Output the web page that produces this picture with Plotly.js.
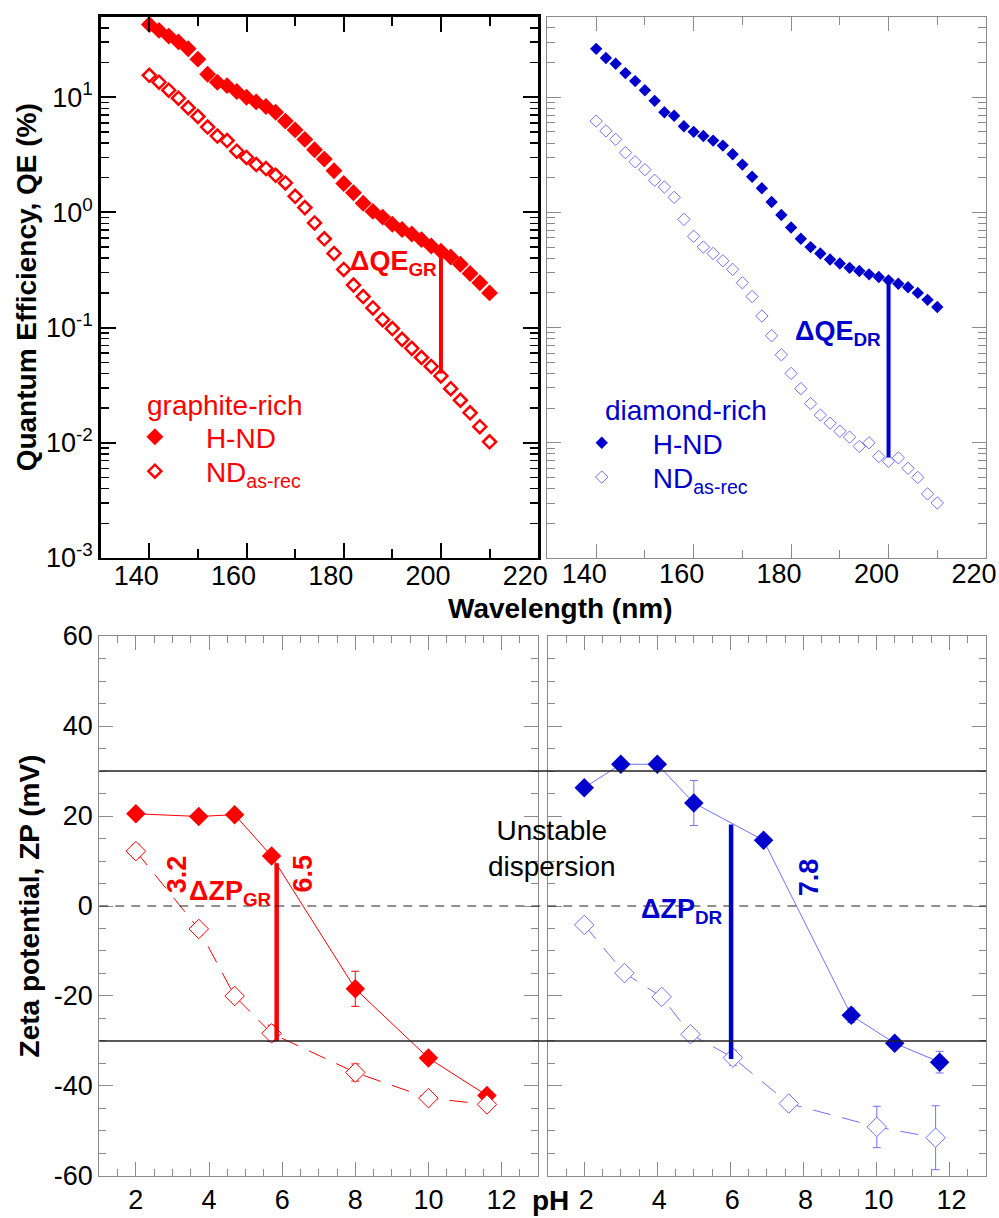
<!DOCTYPE html>
<html>
<head>
<meta charset="utf-8">
<script src="https://cdn.plot.ly/plotly-3.0.1.min.js"></script>
<style>html,body{margin:0;padding:0;background:#fff;} #chart{width:999px;height:1218px;}</style>
</head>
<body>
<div id="chart"></div>
<script>
// ---------------- data ----------------
const wavelength = [140,142,144,146,148,150,152,154,156,158,160,162,164,166,168,170,172,174,176,178,180,182,184,186,188,190,192,194,196,198,200,202,204,206,208,210];
const qeGraphiteH = [42.7,38.0,33.9,30.2,26.3,21.4,15.8,13.5,12.6,11.2,10.0,9.1,8.3,7.4,6.2,5.2,4.3,3.5,2.9,2.3,1.78,1.48,1.20,1.02,0.91,0.79,0.71,0.65,0.58,0.51,0.46,0.41,0.355,0.295,0.245,0.20];
const qeGraphiteND = [15.5,13.5,11.5,9.8,8.1,6.8,5.5,4.6,4.2,3.4,3.0,2.6,2.4,2.1,1.8,1.38,1.10,0.81,0.59,0.44,0.32,0.234,0.186,0.148,0.117,0.098,0.079,0.066,0.055,0.046,0.038,0.0295,0.0234,0.0182,0.0138,0.0102];
const qeDiamondH = [26.3,21.9,19.5,16.2,13.8,11.5,9.3,7.4,6.9,5.6,5.0,4.6,4.2,3.8,3.2,2.6,2.04,1.62,1.23,0.95,0.74,0.59,0.50,0.44,0.39,0.36,0.33,0.31,0.29,0.275,0.257,0.24,0.224,0.20,0.174,0.151];
const qeDiamondND = [6.2,5.1,4.3,3.3,2.75,2.35,1.9,1.66,1.35,0.87,0.62,0.50,0.44,0.38,0.32,0.245,0.186,0.126,0.085,0.058,0.040,0.0295,0.0219,0.0174,0.0148,0.0126,0.0112,0.0093,0.0100,0.0076,0.0069,0.0074,0.0060,0.0050,0.0036,0.0030];
const deltaQEWavelength = [200];

const qeTickVals = [0.001,0.01,0.1,1,10];
const qeTickText = ['10<sup>-3</sup>','10<sup>-2</sup>','10<sup>-1</sup>','10<sup>0</sup>','10<sup>1</sup>'];

const phGraphite = [2.0,3.72,4.70,5.71,8.0,10.0,11.6];
const zpGraphiteH = [20.5,19.9,20.3,11.1,-18.4,-33.8,-42.1];
const zpGraphiteHErr = [0,0,0,0,3.9,0,0];
const zpGraphiteND = [12.2,-5.1,-20.0,-28.3,-37.0,-42.7,-44.1];
const zpGraphiteNDErr = [1.5,0,0,1.8,1.9,0,0];

const phDiamondH = [2.0,3.0,4.0,5.0,6.91,9.31,10.5,11.73];
const zpDiamondH = [26.3,31.5,31.5,22.9,14.6,-24.3,-30.5,-34.7];
const zpDiamondHErr = [0,0,0,5.0,0,1.6,1.0,2.4];
const phDiamondND = [2.0,3.1,4.12,4.91,6.07,7.6,10.01,11.62];
const zpDiamondND = [-4.2,-14.9,-20.2,-28.5,-33.7,-43.9,-49.1,-51.5];
const zpDiamondNDErr = [0,1.2,1.0,1.0,1.7,0,4.6,7.1];

const deltaZPpH = [5.85, 6.02];
const deltaZPtop = [9.5, 18.1];
const deltaZPbottom = [-30, -34];
const stabilityLimits = [30, -30];
const zeroLevel = [0];
const iepLabels = ['3.2','6.5','7.8'];
const iepPH = [3.12, 6.57, 8.14];

const zpTickVals = [-60,-40,-20,0,20,40,60];
const zpTickText = ['-60','-40','-20','0','20','40','60'];

// ---------------- style ----------------
const FONT = 'Liberation Sans, Arial, sans-serif';
const RED = '#ff0000';
const BLUE = '#0000cc';
const LBLUE = '#7070ff';
const GRAY = '#8a8a8a';

const idx200 = wavelength.indexOf(deltaQEWavelength[0]);

const traces = [
  {x: wavelength, y: qeGraphiteH, xaxis:'x', yaxis:'y', mode:'markers', name:'H-ND', legend:'legend',
   marker:{symbol:'diamond', size:13, color:RED, line:{width:0}}},
  {x: wavelength, y: qeGraphiteND, xaxis:'x', yaxis:'y', mode:'markers', name:'ND<sub>as-rec</sub>', legend:'legend3',
   marker:{symbol:'diamond-open', size:10, color:RED, line:{width:2.5, color:RED}}},
  {x: [wavelength[idx200], wavelength[idx200]], y: [qeGraphiteH[idx200]*0.93, qeGraphiteND[idx200]*1.05], xaxis:'x', yaxis:'y',
   mode:'lines', line:{color:RED, width:4}, showlegend:false, hoverinfo:'skip'},

  {x: wavelength, y: qeDiamondH, xaxis:'x2', yaxis:'y2', mode:'markers', name:'H-ND', legend:'legend2',
   marker:{symbol:'diamond', size:9.5, color:BLUE, line:{width:0}}},
  {x: wavelength, y: qeDiamondND, xaxis:'x2', yaxis:'y2', mode:'markers', name:'ND<sub>as-rec</sub>', legend:'legend4',
   marker:{symbol:'diamond-open', size:9.5, color:LBLUE, line:{width:1, color:LBLUE}}},
  {x: [wavelength[idx200], wavelength[idx200]], y: [qeDiamondH[idx200], qeDiamondND[idx200]*1.08], xaxis:'x2', yaxis:'y2',
   mode:'lines', line:{color:BLUE, width:4}, showlegend:false, hoverinfo:'skip'},

  {x: phGraphite, y: zpGraphiteH, xaxis:'x3', yaxis:'y3', mode:'lines+markers', showlegend:false,
   line:{color:RED, width:1},
   marker:{symbol:'diamond', size:15, color:RED, line:{width:0}},
   error_y:{type:'data', array:zpGraphiteHErr, visible:true, color:RED, thickness:1, width:4}},
  {x: phGraphite, y: zpGraphiteND, xaxis:'x3', yaxis:'y3', mode:'lines+markers', showlegend:false,
   line:{color:RED, width:1, dash:'18px,12px'},
   marker:{symbol:'diamond', size:15, color:'#ffffff', line:{width:1, color:RED}},
   error_y:{type:'data', array:zpGraphiteNDErr, visible:true, color:RED, thickness:1, width:4}},
  {x: [deltaZPpH[0], deltaZPpH[0]], y: [deltaZPtop[0], deltaZPbottom[0]], xaxis:'x3', yaxis:'y3',
   mode:'lines', line:{color:RED, width:4.5}, showlegend:false, hoverinfo:'skip'},

  {x: phDiamondND, y: zpDiamondND, xaxis:'x4', yaxis:'y4', mode:'lines+markers', showlegend:false,
   line:{color:LBLUE, width:1, dash:'18px,12px'},
   marker:{symbol:'diamond', size:15, color:'#ffffff', line:{width:1, color:LBLUE}},
   error_y:{type:'data', array:zpDiamondNDErr, visible:true, color:LBLUE, thickness:1, width:4}},
  {x: phDiamondH, y: zpDiamondH, xaxis:'x4', yaxis:'y4', mode:'lines+markers', showlegend:false,
   line:{color:LBLUE, width:1},
   marker:{symbol:'diamond', size:15, color:BLUE, line:{width:0}},
   error_y:{type:'data', array:zpDiamondHErr, visible:true, color:LBLUE, thickness:1, width:4}},
  {x: [deltaZPpH[1], deltaZPpH[1]], y: [deltaZPtop[1], deltaZPbottom[1]], xaxis:'x4', yaxis:'y4',
   mode:'lines', line:{color:BLUE, width:4.5}, showlegend:false, hoverinfo:'skip'}
];

function baseAxis(color, lw, majorLen, tw) {
  return {
    showline:true, linecolor:color, linewidth:lw, mirror:'ticks',
    ticks:'inside', ticklen:majorLen, tickwidth:tw, tickcolor:color,
    showgrid:false, zeroline:false,
    tickfont:{family:FONT, size:27, color:'#000'}
  };
}

const xTopDomL = [0.1008, 0.5387];
const xTopDomR = [0.5480, 0.9870];
const yTopDom = [0.5419, 0.9864];
const xBotDomL = [0.0994, 0.5387];
const xBotDomR = [0.5483, 0.9870];
const yBotDom = [0.0345, 0.4778];

function legendAt(x, y, color) {
  return {x:x, y:y, xanchor:'left', yanchor:'top', bgcolor:'rgba(0,0,0,0)', borderwidth:0,
    itemwidth:92, tracegroupgap:0, font:{family:FONT, size:28, color:color}};
}

const layout = {
  width:999, height:1218,
  margin:{l:0, r:0, t:0, b:0},
  paper_bgcolor:'#ffffff', plot_bgcolor:'rgba(0,0,0,0)',
  font:{family:FONT, color:'#000'},
  showlegend:true,
  xaxis: Object.assign(baseAxis('#000', 2.5, 15, 2), {
    domain:xTopDomL, anchor:'y', range:[130,220], tickmode:'linear', tick0:140, dtick:20,
    ticklabelshift:-13, ticklabelstandoff:-8, ticklabeloverflow:'allow',
    minor:{ticks:'inside', dtick:10, tick0:130, ticklen:9, tickwidth:2, tickcolor:'#000', showgrid:false}
  }),
  yaxis: Object.assign(baseAxis('#000', 2.5, 15, 2), {
    domain:yTopDom, anchor:'x', type:'log', range:[-3, 1.7],
    tickmode:'array', tickvals:qeTickVals, ticktext:qeTickText,
    minor:{ticks:'inside', dtick:'D1', ticklen:8, tickwidth:1.5, tickcolor:'#000', showgrid:false},
    title:{text:'<b>Quantum Efficiency, QE (%)</b>', font:{family:FONT, size:28, color:'#000'}, standoff:1}
  }),
  xaxis2: Object.assign(baseAxis(GRAY, 1, 14, 1), {
    domain:xTopDomR, anchor:'y2', range:[130,220], tickmode:'linear', tick0:140, dtick:20,
    ticklabelshift:-12, ticklabelstandoff:-8, ticklabeloverflow:'allow',
    minor:{ticks:'inside', dtick:10, tick0:130, ticklen:8, tickwidth:1, tickcolor:GRAY, showgrid:false}
  }),
  yaxis2: Object.assign(baseAxis(GRAY, 1, 14, 1), {
    domain:yTopDom, anchor:'x2', type:'log', range:[-3, 1.7],
    tickmode:'array', tickvals:qeTickVals, ticktext:qeTickText, showticklabels:false,
    minor:{ticks:'inside', dtick:'D1', ticklen:8, tickwidth:1, tickcolor:GRAY, showgrid:false}
  }),
  xaxis3: Object.assign(baseAxis(GRAY, 1, 14, 1), {
    domain:xBotDomL, anchor:'y3', range:[1,13], tickmode:'linear', tick0:2, dtick:2,
    minor:{ticks:'inside', dtick:0.5, tick0:1, ticklen:7, tickwidth:1, tickcolor:GRAY, showgrid:false}
  }),
  yaxis3: Object.assign(baseAxis(GRAY, 1, 14, 1), {
    domain:yBotDom, anchor:'x3', range:[-60,60],
    tickmode:'array', tickvals:zpTickVals, ticktext:zpTickText,
    minor:{ticks:'inside', dtick:5, tick0:0, ticklen:7, tickwidth:1, tickcolor:GRAY, showgrid:false},
    title:{text:'<b>Zeta potential, ZP (mV)</b>', font:{family:FONT, size:28, color:'#000'}, standoff:6}
  }),
  xaxis4: Object.assign(baseAxis(GRAY, 1, 14, 1), {
    domain:xBotDomR, anchor:'y4', range:[1,13], tickmode:'linear', tick0:2, dtick:2, ticklabelshift:2,
    minor:{ticks:'inside', dtick:0.5, tick0:1, ticklen:7, tickwidth:1, tickcolor:GRAY, showgrid:false}
  }),
  yaxis4: Object.assign(baseAxis(GRAY, 1, 14, 1), {
    domain:yBotDom, anchor:'x4', range:[-60,60], showticklabels:false,
    tickmode:'array', tickvals:zpTickVals, ticktext:zpTickText,
    minor:{ticks:'inside', dtick:5, tick0:0, ticklen:7, tickwidth:1, tickcolor:GRAY, showgrid:false}
  }),
  legend: legendAt(0.104, 0.6617, RED),
  legend3: legendAt(0.104, 0.6334, RED),
  legend2: legendAt(0.5513, 0.6568, BLUE),
  legend4: legendAt(0.5513, 0.6286, BLUE),
  shapes: [
    ...stabilityLimits.map(v => ({type:'line', xref:'paper', yref:'y3', x0:xBotDomL[0], x1:xBotDomR[1], y0:v, y1:v,
      line:{color:'#222', width:1.3}})),
    ...zeroLevel.map(v => ({type:'line', xref:'paper', yref:'y3', x0:xBotDomL[0], x1:xBotDomR[1], y0:v, y1:v,
      line:{color:'#222', width:1.2, dash:'9px,7px'}}))
  ],
  annotations: [
    {xref:'paper', yref:'paper', x:0.1451, y:0.6668, xanchor:'left', yanchor:'middle', showarrow:false,
     text:'graphite-rich', font:{family:FONT, size:28, color:RED}},
    {xref:'paper', yref:'paper', x:0.6036, y:0.6626, xanchor:'left', yanchor:'middle', showarrow:false,
     text:'diamond-rich', font:{family:FONT, size:28, color:BLUE}},
    {xref:'x', yref:'y', x:180.8, y:-0.44, xanchor:'left', yanchor:'middle', showarrow:false,
     text:'<b>ΔQE<sub>GR</sub></b>', font:{family:FONT, size:27, color:RED}},
    {xref:'x2', yref:'y2', x:180.4, y:-1.05, xanchor:'left', yanchor:'middle', showarrow:false,
     text:'<b>ΔQE<sub>DR</sub></b>', font:{family:FONT, size:27, color:BLUE}},
    {xref:'paper', yref:'paper', x:0.5606, y:0.5005, xanchor:'center', yanchor:'middle', showarrow:false,
     text:'<b>Wavelength (nm)</b>', font:{family:FONT, size:28, color:'#000'}},
    {xref:'paper', yref:'paper', x:0.5506, y:0.0, xanchor:'center', yanchor:'bottom', showarrow:false,
     text:'<b>pH</b>', font:{family:FONT, size:28, color:'#000'}},
    {xref:'paper', yref:'y3', x:0.5526, y:12.7, xanchor:'center', yanchor:'middle', showarrow:false,
     text:'Unstable<br>dispersion', font:{family:FONT, size:28, color:'#000'}},
    {xref:'x3', yref:'y3', x:iepPH[0], y:7.0, textangle:-90, showarrow:false,
     text:'<b>'+iepLabels[0]+'</b>', font:{family:FONT, size:27, color:RED}},
    {xref:'x3', yref:'y3', x:iepPH[1], y:7.2, textangle:-90, showarrow:false,
     text:'<b>'+iepLabels[1]+'</b>', font:{family:FONT, size:27, color:RED}},
    {xref:'x4', yref:'y4', x:iepPH[2], y:6.3, textangle:-90, showarrow:false,
     text:'<b>'+iepLabels[2]+'</b>', font:{family:FONT, size:27, color:BLUE}},
    {xref:'x3', yref:'y3', x:3.41, y:3.0, xanchor:'left', yanchor:'middle', showarrow:false,
     text:'<b>ΔZP<sub>GR</sub></b>', font:{family:FONT, size:27, color:RED}},
    {xref:'x4', yref:'y4', x:3.51, y:-1.2, xanchor:'left', yanchor:'middle', showarrow:false,
     text:'<b>ΔZP<sub>DR</sub></b>', font:{family:FONT, size:27, color:BLUE}}
  ]
};

Plotly.newPlot('chart', traces, layout, {staticPlot:true, displayModeBar:false});
</script>
</body>
</html>
